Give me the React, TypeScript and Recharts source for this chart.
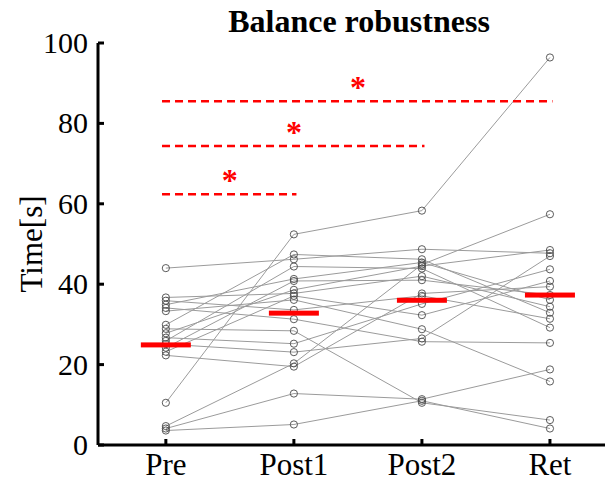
import React from "react"
import { ComposedChart, Line, Scatter, XAxis, YAxis, ReferenceLine } from "recharts"

const categories = ["Pre", "Post1", "Post2", "Ret"]

// one value per subject, same subject order in every array
const pre = [10.5, 44.0, 4.7, 3.6, 4.1, 28.9, 36.7, 35.9, 34.9, 34.1, 33.3, 29.9, 27.8, 26.7, 25.9, 25.1, 24.2, 23.2, 22.3]
const post1 = [52.4, 46.2, 20.3, 5.1, 12.8, 28.4, 37.7, 33.6, 41.3, 31.3, 36.1, 47.4, 38.6, 25.2, 44.4, 23.1, 40.8, 37.1, 19.5]
const post2 = [58.3, 48.7, 44.9, 11.0, 11.4, 10.5, 42.0, 37.1, 45.4, 25.7, 28.8, 46.2, 44.5, 35.1, 43.9, 26.5, 41.0, 32.3, 37.7]
const ret = [96.4, 47.7, 57.4, 4.1, 18.8, 6.2, 34.4, 31.4, 36.1, 25.4, 15.8, 32.9, 48.5, 43.7, 29.2, 47.0, 37.3, 40.8, 39.4]
const means = [24.9, 32.8, 36.0, 37.3]

// significance brackets (category positions 1..4) and their height in seconds
const sigFrom = [1, 1, 1]
const sigTo = [2, 3, 4]
const sigLevel = [62.4, 74.4, 85.5]

const yTicks = [0, 20, 40, 60, 80, 100]

const serif = "'Liberation Serif', 'Times New Roman', serif"

const series = [pre, post1, post2, ret]
const rows = categories.map((c, i) => {
  const row: Record<string, number | string> = { x: i + 1, name: c }
  pre.forEach((_, j) => {
    row[`s${j}`] = series[i][j]
  })
  return row
})
const meanRows = means.map((m, i) => ({ x: i + 1, y: m }))
const starRows = sigLevel.map((lv, i) => ({ x: (sigFrom[i] + sigTo[i]) / 2, y: lv }))

const YTick = (props: any) => {
  const { x, y, payload } = props
  return (
    <g>
      <line x1={x} y1={y} x2={x + 6} y2={y} stroke="#000" strokeWidth={3} />
      <text x={x - 10} y={y} dy={10} textAnchor="end" fontSize={30} fontFamily={serif} fill="#000">
        {payload.value}
      </text>
    </g>
  )
}

const XTick = (props: any) => {
  const { x, y, payload } = props
  return (
    <g>
      <line x1={x} y1={y} x2={x} y2={y - 6} stroke="#000" strokeWidth={3} />
      <text x={x} y={y + 30} textAnchor="middle" fontSize={31} fontFamily={serif} fill="#000">
        {categories[payload.value - 1]}
      </text>
    </g>
  )
}

const MeanBar = (props: any) => {
  const { cx, cy } = props
  return <rect x={cx - 25} y={cy - 2.5} width={50} height={5} fill="#ff0000" />
}

const Star = (props: any) => {
  const { cx, cy } = props
  return (
    <text x={cx} y={cy - 3} textAnchor="middle" fontSize={32} fontWeight="bold" fontFamily={serif} fill="#ff0000">
      *
    </text>
  )
}

export default function App() {
  return (
    <div style={{ position: "relative", width: 605, height: 482, background: "#fff" }}>
      <style>{`body{margin:0}`}</style>
      <div
        style={{
          position: "absolute",
          top: 5,
          left: 0,
          width: 605,
          paddingLeft: 113,
          boxSizing: "border-box",
          textAlign: "center",
          fontFamily: serif,
          fontWeight: "bold",
          fontSize: 32,
          lineHeight: "32px",
          color: "#000",
        }}
      >
        Balance robustness
      </div>
      <ComposedChart width={605} height={482} data={rows} margin={{ top: 43, right: 0, bottom: 0, left: 0 }}>
        <XAxis
          type="number"
          dataKey="x"
          domain={[0.47, 4.43]}
          ticks={[1, 2, 3, 4]}
          allowDataOverflow
          height={37}
          tickSize={0}
          tickMargin={0}
          tick={<XTick />}
          axisLine={{ stroke: "#000", strokeWidth: 3 }}
        />
        <YAxis
          type="number"
          domain={[0, 100]}
          ticks={yTicks}
          width={98}
          tickSize={0}
          tickMargin={0}
          tick={<YTick />}
          axisLine={{ stroke: "#000", strokeWidth: 3 }}
          label={{
            value: "Time[s]",
            angle: -90,
            position: "insideLeft",
            offset: 31,
            style: { textAnchor: "middle", fontSize: 31, fontFamily: serif, fill: "#000" },
          }}
        />
        {pre.map((_, j) => (
          <Line
            key={j}
            type="linear"
            dataKey={`s${j}`}
            stroke="#9b9b9b"
            strokeWidth={1}
            dot={{ r: 3.6, stroke: "#4a4a4a", strokeWidth: 0.9, fill: "none" }}
            activeDot={false}
            isAnimationActive={false}
          />
        ))}
        {sigLevel.map((lv, i) => (
          <ReferenceLine
            key={i}
            segment={[
              { x: sigFrom[i] - 0.03, y: lv },
              { x: sigTo[i] + 0.02, y: lv },
            ]}
            stroke="#ff0000"
            strokeWidth={2.5}
            strokeDasharray="8 5"
          />
        ))}
        <Scatter data={meanRows} dataKey="y" shape={<MeanBar />} isAnimationActive={false} />
        <Scatter data={starRows} dataKey="y" shape={<Star />} isAnimationActive={false} />
      </ComposedChart>
    </div>
  )
}
